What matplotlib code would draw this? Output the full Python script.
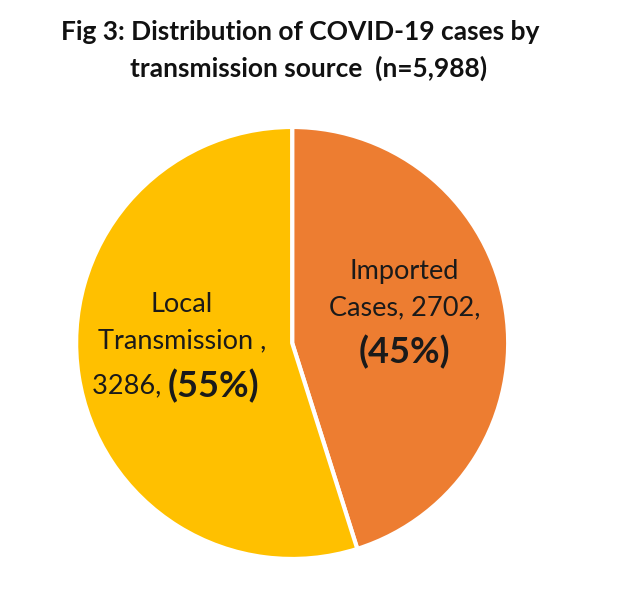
import matplotlib.pyplot as plt
import numpy as np

# data
sources = ["Imported", "Local"]
counts = [2702, 3286]
pct_labels = ["(45%)", "(55%)"]
colors = ["#ED7D31", "#FFC000"]

plt.rcParams['font.family'] = ['Lato', 'DejaVu Sans']

fig = plt.figure(figsize=(6.4, 6.13), dpi=100)
title_col = '#111111'
fig.text(300 / 640, 1 - 32 / 613, "Fig 3: Distribution of COVID-19 cases by",
         ha='center', va='center', fontsize=19, fontweight='bold', color=title_col)
fig.text(309 / 640, 1 - 68 / 613, "transmission source  (n=5,988)",
         ha='center', va='center', fontsize=19, fontweight='bold', color=title_col)

ax = fig.add_axes([0.119, 0.088, 0.675, 0.705])
wedges, _ = ax.pie(counts, colors=colors, startangle=90, counterclock=False,
                   wedgeprops=dict(edgecolor='white', linewidth=3))
ax.set_aspect('equal')
ax.set_xlim(-1, 1)
ax.set_ylim(-1, 1)

txt = '#1a1a1a'
fs = 19.5
fs_pct = 26

# Imported label
ax.text(0.52, 0.333, "Imported", ha='center', va='center', fontsize=fs, color=txt)
ax.text(0.52, 0.162, f"Cases, {counts[0]},", ha='center', va='center', fontsize=fs, color=txt)
ax.text(0.52, -0.04, pct_labels[0], ha='center', va='center', fontsize=fs_pct, fontweight='bold', color=txt)

# Local label
ax.text(-0.51, 0.176, "Local", ha='center', va='center', fontsize=fs, color=txt)
ax.text(-0.51, 0.009, "Transmission ,", ha='center', va='center', fontsize=fs, color=txt)
ax.text(-0.575, -0.2, f"{counts[1]}, ", ha='right', va='center', fontsize=fs, color=txt)
ax.text(-0.575, -0.2, pct_labels[1], ha='left', va='center', fontsize=fs_pct, fontweight='bold', color=txt)

fig.savefig("out.png", dpi=100)
